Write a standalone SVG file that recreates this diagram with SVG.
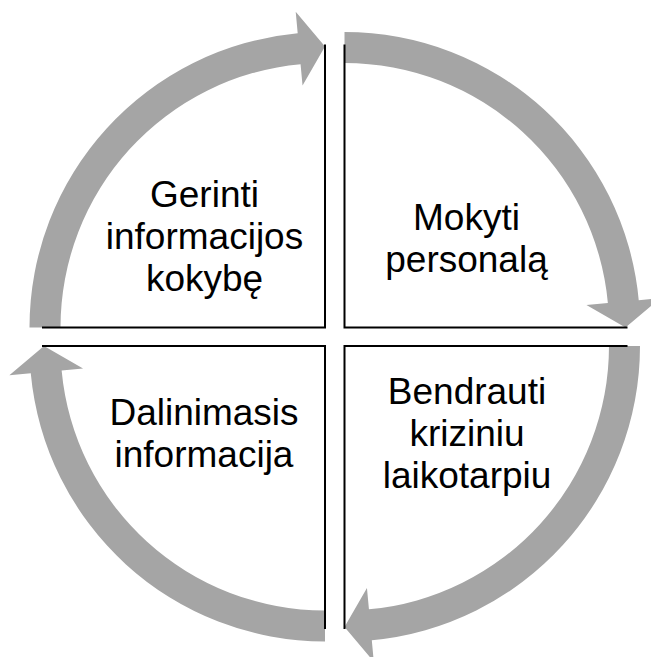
<svg xmlns="http://www.w3.org/2000/svg" xmlns:xlink="http://www.w3.org/1999/xlink" width="651" height="657" viewBox="0 0 651 657">
<style>
  .arc { fill: #a5a5a5; stroke: none; }
  .edge { fill: none; stroke: #000000; stroke-width: 2; stroke-linejoin: miter; }
  .lbl { font-family: "Liberation Sans", Arial, sans-serif; font-size: 37px; fill: #000000; text-anchor: middle; }
</style>
<defs>
  <path id="arrow" d="M -295.5 0 A 295.5 295.5 0 0 1 -27.30 -294.24 L -29.29 -315.65 L 0 -281 L -22.45 -241.96 L -24.44 -263.37 A 264.5 264.5 0 0 0 -264.5 0 Z"/>
  <path id="edges" d="M 0 -283 L 0 0 L -283 0"/>
</defs>
<g id="connectors">
  <use xlink:href="#arrow" href="#arrow" class="arc" transform="translate(325,327.5)"/>
  <use xlink:href="#arrow" href="#arrow" class="arc" transform="translate(344.5,327.5) rotate(90)"/>
  <use xlink:href="#arrow" href="#arrow" class="arc" transform="translate(344.5,346) rotate(180)"/>
  <use xlink:href="#arrow" href="#arrow" class="arc" transform="translate(325,346) rotate(270)"/>
</g>
<g id="node-gerinti">
  <use xlink:href="#edges" href="#edges" class="edge" transform="translate(325,327.5)"/>
  <text class="lbl" x="204.5" y="207">Gerinti</text>
  <text class="lbl" x="204.5" y="249">informacijos</text>
  <text class="lbl" x="204.5" y="291">kokybę</text>
</g>
<g id="node-mokyti">
  <use xlink:href="#edges" href="#edges" class="edge" transform="translate(344.5,327.5) rotate(90)"/>
  <text class="lbl" x="466.5" y="230">Mokyti</text>
  <text class="lbl" x="466.5" y="272">personalą</text>
</g>
<g id="node-bendrauti">
  <use xlink:href="#edges" href="#edges" class="edge" transform="translate(344.5,346) rotate(180)"/>
  <text class="lbl" x="467" y="404">Bendrauti</text>
  <text class="lbl" x="467" y="446">kriziniu</text>
  <text class="lbl" x="467" y="488">laikotarpiu</text>
</g>
<g id="node-dalinimasis">
  <use xlink:href="#edges" href="#edges" class="edge" transform="translate(325,346) rotate(270)"/>
  <text class="lbl" x="204" y="425">Dalinimasis</text>
  <text class="lbl" x="204" y="467">informacija</text>
</g>
</svg>
